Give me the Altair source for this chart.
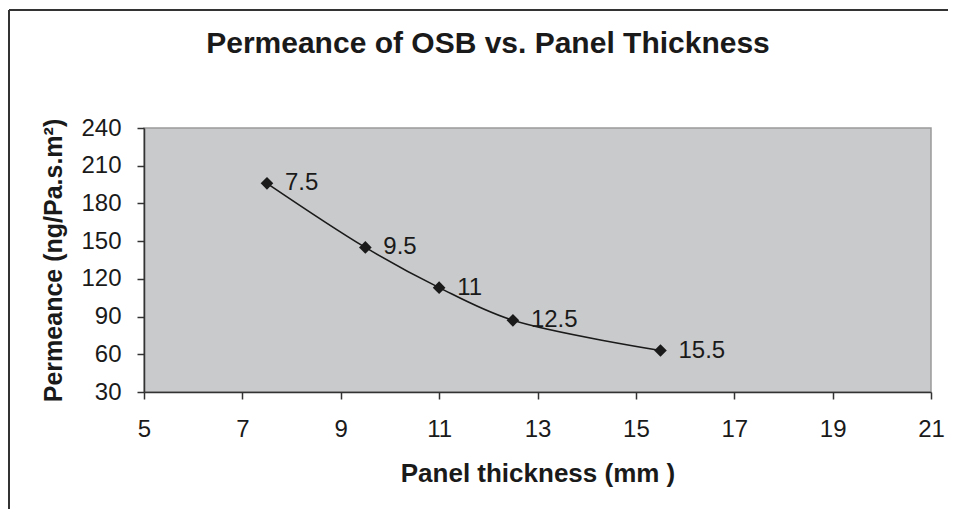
import altair as alt
import pandas as pd

thickness = [7.5, 9.5, 11, 12.5, 15.5]
permeance = [196, 145, 113, 87, 63]
labels = ["7.5", "9.5", "11", "12.5", "15.5"]
chart_title = "Permeance of OSB vs. Panel Thickness"

df = pd.DataFrame({"t": thickness, "p": permeance, "lab": labels})

FONT = "Liberation Sans"

x = alt.X("t:Q", scale=alt.Scale(domain=[5, 21], nice=False, zero=False),
          axis=alt.Axis(values=list(range(5, 22, 2)), title="Panel thickness (mm )",
                        grid=False, tickSize=7, labelPadding=18, titlePadding=19,
                        labelFlush=False, titleFontSize=26))
y = alt.Y("p:Q", scale=alt.Scale(domain=[30, 240], nice=False, zero=False),
          axis=alt.Axis(values=list(range(30, 241, 30)), title="Permeance (ng/Pa.s.m²)",
                        grid=False, tickSize=7, labelPadding=16, titlePadding=14,
                        labelFlush=False, titleFontSize=25))

base = alt.Chart(df)

line = base.mark_line(color="#1a1a1a", strokeWidth=1.6, interpolate="catmull-rom").encode(x=x, y=y)
pts = base.mark_point(shape="diamond", filled=True, color="#1a1a1a", size=160, opacity=1).encode(x=x, y=y)
txt = base.mark_text(align="left", baseline="middle", dx=18, dy=0, fontSize=24, font=FONT,
                     color="#1a1a1a").encode(x=x, y=y, text="lab:N")

one = pd.DataFrame({"a": [0]})
title_mark = alt.Chart(one).mark_text(font=FONT, fontSize=30, fontWeight="bold", color="#1a1a1a",
                                      align="center", baseline="alphabetic").encode(
    x=alt.value(344), y=alt.value(-75), text=alt.value(chart_title))
frame_top = alt.Chart(one).mark_rule(color="#333", strokeWidth=2).encode(
    x=alt.value(-135), x2=alt.value(820), y=alt.value(-118))
frame_left = alt.Chart(one).mark_rule(color="#333", strokeWidth=2).encode(
    x=alt.value(-135), y=alt.value(-118), y2=alt.value(400))

chart = alt.layer(line, pts, txt, title_mark, frame_top, frame_left).properties(
    width=787, height=264,
    autosize=alt.AutoSizeParams(type="none"),
    padding={"left": 136, "top": 120, "right": 17, "bottom": 117},
    background="white",
).configure_view(
    fill="#c9cacc", stroke="#9a9a9a", strokeWidth=1.5
).configure_axis(
    labelFont=FONT, labelFontSize=24, labelColor="#1a1a1a",
    titleFont=FONT, titleFontWeight="bold", titleColor="#1a1a1a",
    domainColor="#333", domainWidth=1.5, tickColor="#333", tickWidth=1.5
)

chart.save("out.html", embed_options={"renderer": "svg", "actions": False})
